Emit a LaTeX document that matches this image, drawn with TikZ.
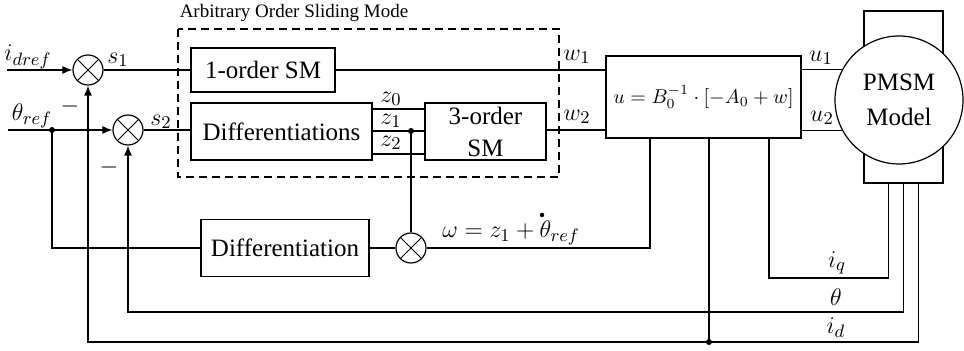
\documentclass[tikz,border=0pt]{standalone}
\usepackage{fontspec}
\setmainfont{Liberation Serif}
\usetikzlibrary{arrows.meta,calc}
\begin{document}
\begin{tikzpicture}[x=0.5pt,y=-0.5pt,
  every node/.style={font=\fontsize{12.5}{15}\selectfont},
  blk/.style={draw,line width=0.6pt,inner sep=0pt,align=center},
  sumc/.style={draw,circle,minimum size=15pt,inner sep=0pt,line width=0.6pt,
    path picture={\draw[line width=0.5pt] (path picture bounding box.north west)--(path picture bounding box.south east)
      (path picture bounding box.north east)--(path picture bounding box.south west);}},
  ln/.style={line width=0.6pt},
  arr/.style={ln,-{Latex[length=5pt,width=4pt]}},
  lbl/.style={inner sep=0pt},
  jdot/.style={circle,fill,inner sep=0pt,minimum size=3pt}
]
\useasboundingbox (0,0) rectangle (964,351);

% title and dashed frame
\node[lbl,font=\fontsize{9.5}{11}\selectfont] (title) at (294,13) {Arbitrary Order Sliding Mode};
\draw[ln,dash pattern=on 4pt off 2.5pt] (178,29) rectangle (559,177);

% blocks
\node[sumc] (s1c) at (88,70) {};
\node[sumc] (s2c) at (128,130) {};
\node[blk,minimum width=72pt,minimum height=22pt] (sm1) at (263,70) {1-order SM};
\node[blk,minimum width=90.5pt,minimum height=28.5pt] (dfs) at (281.5,131.5) {Differentiations};
\node[blk,minimum width=60.5pt,minimum height=28.5pt,font=\fontsize{12.5}{16}\selectfont] (sm3) at (485.5,131.5) {3-order\\SM};
\node[blk,minimum width=97.5pt,minimum height=41pt,font=\fontsize{10.4}{13}\selectfont] (ubox) at (703.5,97) {$u=B_0^{-1}\cdot[-A_0+w]$};
\node[blk,minimum width=39.5pt,minimum height=86pt] (pmr) at (903.5,97) {};
\node[blk,circle,fill=white,minimum size=64pt,font=\fontsize{12.5}{17.5}\selectfont] (pmc) at (899,100) {PMSM\\Model};
\node[sumc] (mul) at (411,248) {};
\node[blk,minimum width=84pt,minimum height=28.5pt] (dif) at (285,248) {Differentiation};

% helper coordinates
\coordinate (idin) at (7,70);
\coordinate (thin) at (8,130);
\coordinate (tj) at (52,130);
\coordinate (zj) at (411,131);
\coordinate (wc) at (650,248);
\coordinate (yq) at (0,278);
\coordinate (yt) at (0,312);
\coordinate (yd) at (0,342);
\coordinate (fq) at ([xshift=-7.5pt]pmr.south);
\coordinate (ft) at (pmr.south);
\coordinate (fd) at ([xshift=7.5pt]pmr.south);
\coordinate (uq) at ([xshift=32.75pt]ubox.south);
\coordinate (um) at ([xshift=2.75pt]ubox.south);

% forward paths
\draw[arr] (idin) -- (s1c);
\draw[arr] (thin) -- (s2c);
\draw[ln] (s1c) -- (sm1.west |- s1c);
\draw[ln] (s2c) -- (dfs.west |- s2c);
\draw[ln] (sm1.east) -- (ubox.west |- sm1.east);
\draw[ln] (sm3.east |- s2c) -- (ubox.west |- s2c);
\foreach \yy in {109,131,154} {
  \coordinate (zz) at (0,\yy);
  \draw[ln] (dfs.east |- zz) -- (sm3.west |- zz);
}
\draw[ln] (zj) -- (mul);
\node[jdot] (dz) at (zj) {};
\draw[ln] (tj) -- (tj |- dif) -- (dif.west);
\node[jdot] (dt) at (tj) {};
\draw[ln] (dif) -- (mul);
\draw[ln] (mul) -- (wc) -- (wc |- ubox.south);
\draw[ln] (ubox.east |- pmc.152) -- (pmc.152);
\draw[ln] (ubox.east |- pmc.208) -- (pmc.208);

% feedback
\draw[ln] (fq) -- (fq |- yq) -- (uq |- yq) -- (uq);
\draw[arr] (ft) -- (ft |- yt) -- (s2c |- yt) -- (s2c.south);
\draw[arr] (fd) -- (fd |- yd) -- (s1c |- yd) -- (s1c.south);
\draw[ln] (um) -- (um |- yd);
\node[jdot] (dd) at (um |- yd) {};

% labels
\node[lbl] (lid) at (28,57) {$i_{dref}$};
\node[lbl] (lth) at (32,116) {$\theta_{ref}$};
\node[lbl] (ls1) at (118,60) {$s_1$};
\node[lbl] (ls2) at (161,122) {$s_2$};
\node[lbl] (m1) at (70,107) {$-$};
\node[lbl] (m2) at (109,168) {$-$};
\node[lbl] (lz0) at (391,99) {$z_0$};
\node[lbl] (lz1) at (391,121) {$z_1$};
\node[lbl] (lz2) at (391,143) {$z_2$};
\node[lbl] (lw1) at (577,57) {$w_1$};
\node[lbl] (lw2) at (577,117) {$w_2$};
\node[lbl] (lu1) at (821,58) {$u_1$};
\node[lbl] (lu2) at (822,118) {$u_2$};
\node[lbl,anchor=west] (lom) at (442,233) {$\omega = z_1+\theta_{ref}$};
\node[circle,fill,inner sep=0pt,minimum size=2.2pt] (thdot) at (542,215) {};
\node[lbl] (liq) at (837,263) {$i_q$};
\node[lbl] (lthe) at (836,297) {$\theta$};
\node[lbl] (lidd) at (836,328) {$i_d$};
\end{tikzpicture}
\end{document}
